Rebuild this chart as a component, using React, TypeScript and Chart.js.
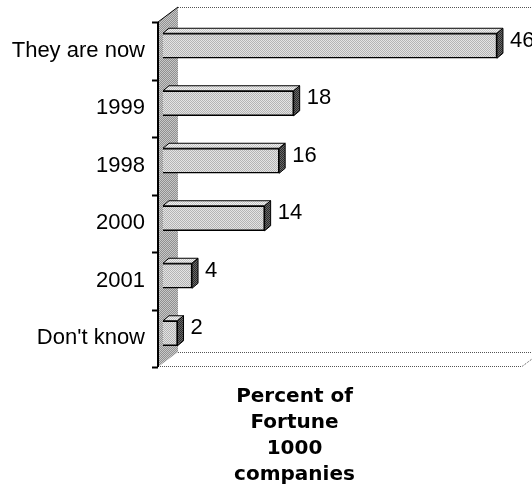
import { useEffect, useRef } from "react";
import { Chart, registerables } from "chart.js";

Chart.register(...registerables);

// Survey answers and their share of Fortune 1000 companies (%)
const categories = ["They are now", "1999", "1998", "2000", "2001", "Don't know"];
const percentValues = [46, 18, 16, 14, 4, 2];
const titleLines = ["Percent of", "Fortune", "1000", "companies"];

const LABEL_FONT = '"Liberation Sans", Arial, sans-serif';
const TITLE_FONT = '"DejaVu Sans", Verdana, sans-serif';

// 3D box depth (wall / floor) and bar extrusion
const BOX_DX = 20;
const BOX_DY = 15;
const BAR_DX = 6;
const BAR_DY = 5;
const BAR_LIFT = 5;

function dither(a: string, b: string): CanvasPattern | string {
  const c = document.createElement("canvas");
  c.width = 2;
  c.height = 2;
  const g = c.getContext("2d");
  if (!g) return a;
  g.fillStyle = a;
  g.fillRect(0, 0, 2, 2);
  g.fillStyle = b;
  g.fillRect(0, 0, 1, 1);
  g.fillRect(1, 1, 1, 1);
  return g.createPattern(c, "repeat") || a;
}

export default function App() {
  const canvasRef = useRef<HTMLCanvasElement | null>(null);

  useEffect(() => {
    const canvas = canvasRef.current;
    if (!canvas) return;

    const frontFill = dither("#b4b4b4", "#e4e4e4");
    const topFill = dither("#c4c4c4", "#f0f0f0");
    const sideFill = dither("#2a2a2a", "#6a6a6a");
    const wallFill = dither("#909090", "#c8c8c8");

    const box3d = {
      id: "box3d",
      beforeDatasetsDraw(chart: any) {
        const { ctx, chartArea: a } = chart;
        const fx = a.left - 5;
        ctx.save();
        // side wall
        ctx.fillStyle = wallFill;
        ctx.beginPath();
        ctx.moveTo(fx, a.top);
        ctx.lineTo(fx + BOX_DX, a.top - BOX_DY);
        ctx.lineTo(fx + BOX_DX, a.bottom - BOX_DY);
        ctx.lineTo(fx, a.bottom);
        ctx.closePath();
        ctx.fill();
        ctx.strokeStyle = "#000";
        ctx.lineWidth = 1;
        ctx.beginPath();
        ctx.moveTo(fx, a.top);
        ctx.lineTo(fx + BOX_DX, a.top - BOX_DY);
        ctx.stroke();

        // back-top edge and floor edges
        ctx.setLineDash([1, 1]);
        ctx.strokeStyle = "#555";
        ctx.beginPath();
        ctx.moveTo(fx + BOX_DX, a.top - BOX_DY + 0.5);
        ctx.lineTo(chart.width, a.top - BOX_DY + 0.5);
        ctx.moveTo(fx + BOX_DX, a.bottom - BOX_DY + 0.5);
        ctx.lineTo(chart.width, a.bottom - BOX_DY + 0.5);
        ctx.moveTo(fx, a.bottom - 0.5);
        ctx.lineTo(a.right - 4, a.bottom - 0.5);
        ctx.lineTo(a.right - 4 + BOX_DX, a.bottom - 0.5 - BOX_DY);
        ctx.stroke();
        ctx.setLineDash([]);

        // category axis line with tick marks
        ctx.strokeStyle = "#000";
        ctx.lineWidth = 2;
        ctx.beginPath();
        ctx.moveTo(fx, a.top);
        ctx.lineTo(fx, a.bottom);
        const n = categories.length;
        for (let i = 0; i <= n; i++) {
          const y = Math.round(a.top + (i * (a.bottom - a.top)) / n) + 0.5;
          ctx.moveTo(fx - 6, y);
          ctx.lineTo(fx, y);
        }
        ctx.stroke();
        ctx.restore();

        ctx.save();
        ctx.translate(0, -BAR_LIFT);
      },
      afterDatasetsDraw(chart: any) {
        const ctx = chart.ctx;
        const meta = chart.getDatasetMeta(0);
        const values = chart.data.datasets[0].data as number[];
        ctx.lineWidth = 1;
        ctx.strokeStyle = "#000";
        meta.data.forEach((bar: any, i: number) => {
          const { x, y, base, height } = bar.getProps(["x", "y", "base", "height"], true);
          const top = y - height / 2;
          const bot = y + height / 2;
          // top face
          ctx.fillStyle = topFill;
          ctx.beginPath();
          ctx.moveTo(base, top);
          ctx.lineTo(base + BAR_DX, top - BAR_DY);
          ctx.lineTo(x + BAR_DX, top - BAR_DY);
          ctx.lineTo(x, top);
          ctx.closePath();
          ctx.fill();
          ctx.stroke();
          // side face
          ctx.fillStyle = sideFill;
          ctx.beginPath();
          ctx.moveTo(x, top);
          ctx.lineTo(x + BAR_DX, top - BAR_DY);
          ctx.lineTo(x + BAR_DX, bot - BAR_DY);
          ctx.lineTo(x, bot);
          ctx.closePath();
          ctx.fill();
          ctx.stroke();
          // value label
          ctx.fillStyle = "#000";
          ctx.font = `22px ${LABEL_FONT}`;
          ctx.textAlign = "left";
          ctx.textBaseline = "middle";
          ctx.fillText(String(values[i]), x + BAR_DX + 7, y - 5);
        });
        ctx.restore();
      },
      afterDraw(chart: any) {
        // value-axis title, centred under the plot
        const { ctx, chartArea: a } = chart;
        ctx.save();
        ctx.fillStyle = "#000";
        ctx.font = `bold 20px ${TITLE_FONT}`;
        ctx.textAlign = "center";
        ctx.textBaseline = "alphabetic";
        const cx = (a.right + 63) / 2;
        titleLines.forEach((line, i) => {
          ctx.fillText(line, cx, a.bottom + 35 + i * 26);
        });
        ctx.restore();
      },
    };

    const chart = new Chart(canvas, {
      type: "bar",
      data: {
        labels: categories,
        datasets: [
          {
            data: percentValues,
            backgroundColor: frontFill as any,
            borderColor: "#000",
            borderWidth: 1.5,
            barThickness: 25,
          },
        ],
      },
      options: {
        indexAxis: "y",
        animation: false,
        responsive: false,
        events: [],
        layout: { padding: { left: 0, right: 6, top: 22, bottom: 125 } },
        scales: {
          x: { display: false, min: 0, max: 50 },
          y: {
            position: "left",
            grid: { display: false, drawTicks: false },
            border: { display: false },
            ticks: {
              autoSkip: false,
              padding: 18,
              color: "#000",
              font: { family: LABEL_FONT, size: 22 },
            },
            afterFit: (scale: any) => {
              scale.width = 163;
              scale.paddingTop = 0;
              scale.paddingBottom = 0;
            },
          },
        },
        plugins: {
          legend: { display: false },
          tooltip: { enabled: false },
          title: { display: false },
        },
      },
      plugins: [box3d],
    });

    return () => chart.destroy();
  }, []);

  return (
    <div style={{ position: "fixed", left: 0, top: 0, width: 532, height: 492, background: "#fff" }}>
      <canvas ref={canvasRef} width={532} height={492} />
    </div>
  );
}
